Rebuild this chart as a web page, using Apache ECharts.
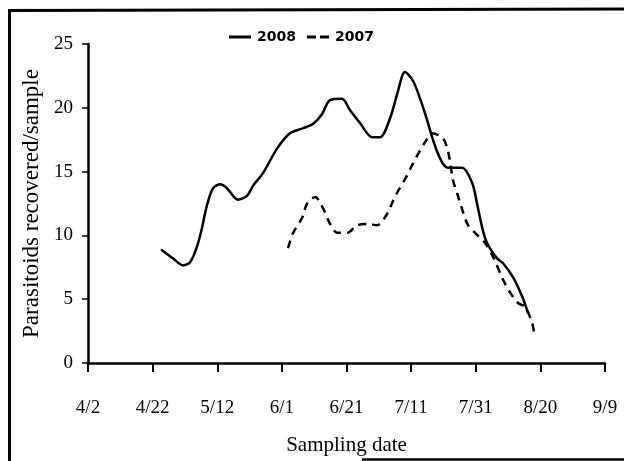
<!DOCTYPE html>
<html>
<head>
<meta charset="utf-8">
<script src="https://cdn.jsdelivr.net/npm/echarts@6/dist/echarts.min.js"></script>
<style>
html,body{margin:0;padding:0;background:#fff;}
#chart{width:624px;height:461px;}
</style>
</head>
<body>
<div id="chart"></div>
<script>
// x values are days after 4/2
const tickLabels = ['4/2','4/22','5/12','6/1','6/21','7/11','7/31','8/20','9/9'];
const yTicks = [0,5,10,15,20,25];

const days2008 = [22.6,26.3,29.4,31.6,33.7,35.3,36.2,37.2,38.7,40.9,43.0,46.4,49.2,51.1,54.2,58.5,62.5,66.6,69.7,72.4,74.9,78.6,81.1,84.2,87.9,90.4,93.5,95.7,98.1,100.6,102.8,105.0,106.5,108.0,109.9,111.5,115.8,118.9,120.4,122.0,123.5,126.6,128.5,131.6,134.4,136.2];
const vals2008 = [8.9,8.2,7.65,7.9,9.1,10.6,11.7,12.7,13.7,14.0,13.7,12.8,13.1,13.9,14.9,16.8,18.0,18.4,18.75,19.5,20.6,20.7,19.8,18.8,17.7,17.7,19.2,21.1,22.8,22.1,20.7,19.0,17.7,16.6,15.6,15.3,15.3,14.1,12.5,10.6,9.4,8.2,7.8,6.7,5.2,3.9];

const days2007 = [61.9,63.5,66.3,67.8,70.3,72.8,74.9,77.1,80.2,83.3,86.4,89.5,92.6,94.4,96.0,98.1,100.3,102.2,104.3,106.5,109.9,111.5,113.0,114.6,116.1,117.6,119.8,122.9,125.4,128.5,130.7,133.1,135.3,137.5,138.1];
const vals2007 = [9.0,10.2,11.4,12.5,13.0,12.1,10.9,10.2,10.2,10.8,10.9,10.8,11.7,12.7,13.5,14.4,15.5,16.4,17.3,18.0,17.6,16.5,14.3,13.0,11.8,10.8,10.2,9.4,8.3,6.5,5.5,4.7,4.4,3.1,2.3];

const seriesNames = ['2008','2007'];

const pairs = (xs, ys) => xs.map((x, i) => [x, ys[i]]);

const chart = echarts.init(document.getElementById('chart'), null, {renderer:'canvas'});
const serif = 'Liberation Serif';
chart.setOption({
  animation:false,
  backgroundColor:'#fff',
  grid:{left:88, right:19, top:44, bottom:98},
  legend:{
    top:25, left:224, itemWidth:22, itemHeight:3, itemGap:11,
    textStyle:{fontFamily:'DejaVu Sans', fontWeight:'bold', fontSize:14, color:'#000', padding:[0,0,0,1]},
    data:[
      {name:seriesNames[0], icon:'path://M0,0h22v3h-22z'},
      {name:seriesNames[1], icon:'path://M0,0h9v3h-9z M13,0h9v3h-9z'}
    ]
  },
  xAxis:{
    type:'value', min:0, max:160, interval:20,
    name:'Sampling date', nameLocation:'middle', nameGap:72,
    nameTextStyle:{fontFamily:serif, fontSize:21, color:'#000'},
    axisLine:{show:true, lineStyle:{color:'#000', width:2.5}},
    axisTick:{show:true, length:9, lineStyle:{color:'#000', width:2}},
    axisLabel:{margin:36, fontFamily:serif, fontSize:19, color:'#000',
      formatter:v => tickLabels[Math.round(v/20)]},
    splitLine:{show:false}
  },
  yAxis:{
    type:'value', min:0, max:25, interval:5,
    name:'Parasitoids recovered/sample', nameLocation:'middle', nameGap:45,
    nameTextStyle:{fontFamily:serif, fontSize:23, color:'#000'},
    axisLine:{show:true, lineStyle:{color:'#000', width:2.5}},
    axisTick:{show:true, length:6, lineStyle:{color:'#000', width:1.5}},
    axisLabel:{margin:15, fontFamily:serif, fontSize:19, color:'#000'},
    splitLine:{show:false}
  },
  series:[
    {name:seriesNames[0], type:'line', data:pairs(days2008, vals2008), symbol:'none', smooth:0.3,
     lineStyle:{color:'#000', width:2.5, type:'solid'}, itemStyle:{color:'#000'}},
    {name:seriesNames[1], type:'line', data:pairs(days2007, vals2007), symbol:'none', smooth:0.3,
     lineStyle:{color:'#000', width:2.5, type:[8,6]}, itemStyle:{color:'#000'}}
  ],
  graphic:[
    {type:'line', shape:{x1:8, y1:10.5, x2:624, y2:9}, style:{stroke:'#000', lineWidth:3}},
    {type:'line', shape:{x1:9.5, y1:9, x2:9.5, y2:461}, style:{stroke:'#000', lineWidth:3}},
    {type:'line', shape:{x1:362, y1:459.5, x2:624, y2:459.5}, style:{stroke:'#000', lineWidth:2.5}}
  ]
});
</script>
</body>
</html>
